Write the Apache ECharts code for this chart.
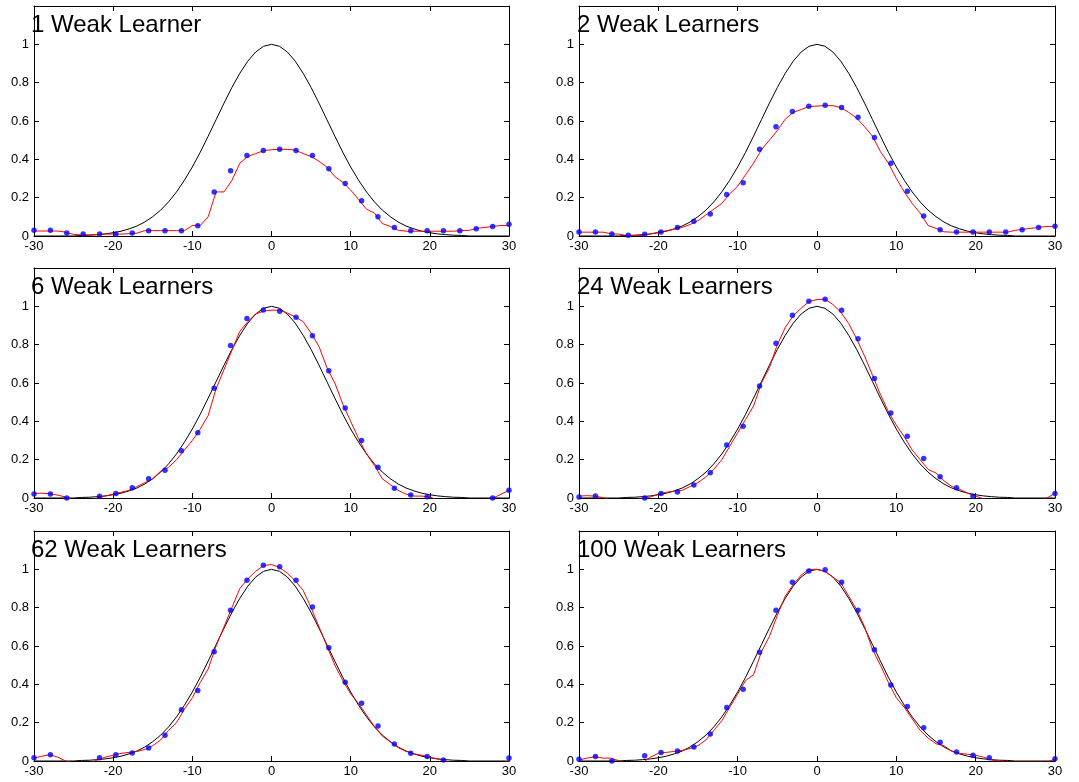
<!DOCTYPE html>
<html>
<head>
<meta charset="utf-8">
<script src="https://cdn.jsdelivr.net/npm/echarts@6/dist/echarts.min.js"></script>
<style>
  html, body { margin: 0; padding: 0; background: #fff; }
  #main { width: 1079px; height: 782px; }
</style>
</head>
<body>
<div id="main"></div>
<script>
// x positions of the fitted curve / target curve samples
var xLine = [-30, -29, -28, -27, -26, -25, -24, -23, -22, -21, -20, -19, -18, -17, -16, -15, -14, -13, -12, -11,
    -10, -9, -8, -7, -6, -5, -4, -3, -2, -1, 0, 1, 2, 3, 4, 5, 6, 7, 8, 9,
    10, 11, 12, 13, 14, 15, 16, 17, 18, 19, 20, 21, 22, 23, 24, 25, 26, 27, 28, 29, 30];

// x positions of the blue sample points
var xDots = [-30, -27.93, -25.86, -23.79, -21.72, -19.66, -17.59, -15.52, -13.45, -11.38,
    -9.31, -7.24, -5.17, -3.10, -1.03, 1.03, 3.10, 5.17, 7.24, 9.31,
    11.38, 13.45, 15.52, 17.59, 19.66, 21.72, 23.79, 25.86, 27.93, 30];

// black target curve (same in every panel)
var target = [0, 0, 0, 0, 0, 0, 0.003, 0.004, 0.007, 0.011, 0.017, 0.025, 0.037, 0.052, 0.073, 0.101, 0.135, 0.178, 0.230, 0.291,
    0.360, 0.437, 0.521, 0.607, 0.693, 0.775, 0.849, 0.912, 0.960, 0.990, 1.000, 0.990, 0.960, 0.912, 0.849, 0.775, 0.693, 0.607, 0.521, 0.437,
    0.360, 0.291, 0.230, 0.178, 0.135, 0.101, 0.073, 0.052, 0.037, 0.025, 0.017, 0.011, 0.007, 0.004, 0.003, 0, 0, 0, 0, 0, 0];

var titles = ['1 Weak Learner', '2 Weak Learners', '6 Weak Learners', '24 Weak Learners', '62 Weak Learners', '100 Weak Learners'];

// red fitted curves
var fit1 = [0.026, 0.026, 0.026, 0.026, 0.02, 0.008, 0.006, 0.006, 0.008, 0.01, 0.01, 0.01, 0.012, 0.015, 0.028, 0.028, 0.028, 0.028, 0.028, 0.028,
    0.055, 0.055, 0.1, 0.23, 0.23, 0.29, 0.38, 0.415, 0.43, 0.445, 0.45, 0.452, 0.452, 0.448, 0.43, 0.415, 0.39, 0.36, 0.31, 0.28,
    0.24, 0.19, 0.14, 0.12, 0.065, 0.05, 0.03, 0.025, 0.025, 0.025, 0.025, 0.025, 0.025, 0.025, 0.028, 0.03, 0.04, 0.045, 0.05, 0.055, 0.055];
var fit2 = [0.02, 0.02, 0.02, 0.02, 0.012, 0.01, 0.003, 0.003, 0.003, 0.01, 0.02, 0.027, 0.035, 0.045, 0.06, 0.08, 0.11, 0.14, 0.17, 0.22,
    0.26, 0.32, 0.38, 0.45, 0.5, 0.55, 0.61, 0.645, 0.66, 0.675, 0.678, 0.68, 0.68, 0.67, 0.645, 0.615, 0.57, 0.52, 0.44, 0.38,
    0.30, 0.23, 0.17, 0.12, 0.055, 0.04, 0.022, 0.02, 0.02, 0.02, 0.02, 0.02, 0.02, 0.02, 0.02, 0.03, 0.035, 0.04, 0.045, 0.05, 0.05];
var fit3 = [0.025, 0.025, 0.022, 0.015, 0.005, -0.01, -0.01, -0.01, 0.0, 0.01, 0.02, 0.03, 0.04, 0.06, 0.08, 0.10, 0.14, 0.16, 0.2, 0.25,
    0.3, 0.36, 0.43, 0.57, 0.67, 0.77, 0.87, 0.92, 0.96, 0.975, 0.98, 0.98, 0.965, 0.945, 0.92, 0.86, 0.79, 0.68, 0.6, 0.49,
    0.4, 0.31, 0.23, 0.17, 0.1, 0.07, 0.04, 0.02, 0.01, 0.01, 0.005, -0.01, -0.01, -0.01, -0.01, -0.01, -0.01, -0.01, 0.0, 0.02, 0.04];
var fit4 = [0.01, 0.012, 0.01, 0.002, -0.01, -0.01, -0.01, -0.01, 0.0, 0.005, 0.02, 0.03, 0.035, 0.04, 0.06, 0.08, 0.11, 0.15, 0.2, 0.27,
    0.34, 0.41, 0.48, 0.6, 0.68, 0.8, 0.89, 0.95, 0.99, 1.025, 1.035, 1.037, 1.01, 0.97, 0.91, 0.83, 0.74, 0.64, 0.54, 0.45,
    0.38, 0.32, 0.25, 0.2, 0.15, 0.13, 0.09, 0.06, 0.045, 0.025, 0.01, -0.005, -0.01, -0.01, -0.01, -0.01, -0.01, -0.01, -0.01, 0.0, 0.025];
var fit5 = [0.015, 0.025, 0.033, 0.02, 0.0, -0.01, -0.01, -0.01, 0.005, 0.02, 0.03, 0.04, 0.045, 0.05, 0.06, 0.08, 0.11, 0.16, 0.2, 0.27,
    0.33, 0.41, 0.48, 0.6, 0.7, 0.8, 0.9, 0.95, 0.99, 1.02, 1.025, 1.01, 0.98, 0.94, 0.89, 0.8, 0.7, 0.6, 0.5, 0.42,
    0.35, 0.3, 0.24, 0.18, 0.13, 0.1, 0.07, 0.05, 0.037, 0.03, 0.02, 0.01, 0.0, -0.01, -0.01, -0.01, -0.01, -0.01, -0.01, -0.01, 0.0];
var fit6 = [0.005, 0.015, 0.022, 0.015, 0.015, 0.002, -0.01, -0.01, -0.01, 0.02, 0.04, 0.045, 0.05, 0.055, 0.065, 0.08, 0.11, 0.16, 0.21, 0.28,
    0.35, 0.42, 0.45, 0.57, 0.65, 0.76, 0.86, 0.92, 0.97, 1.0, 1.0, 0.99, 0.96, 0.93, 0.86, 0.79, 0.7, 0.58, 0.5, 0.41,
    0.33, 0.28, 0.22, 0.16, 0.12, 0.09, 0.08, 0.05, 0.04, 0.035, 0.03, 0.02, 0.005, 0.0, -0.005, -0.005, -0.005, -0.005, -0.005, -0.005, 0.01];

// blue sample points
var dots1 = [0.03, 0.03, 0.016, 0.01, 0.01, 0.01, 0.016, 0.028, 0.028, 0.028, 0.054, 0.229, 0.34, 0.42, 0.446,
    0.453, 0.446, 0.42, 0.351, 0.274, 0.184, 0.10, 0.044, 0.028, 0.028, 0.028, 0.028, 0.038, 0.05, 0.061];
var dots2 = [0.021, 0.021, 0.01, 0.004, 0.009, 0.021, 0.044, 0.077, 0.115, 0.217, 0.278, 0.453, 0.57, 0.649, 0.677,
    0.682, 0.671, 0.619, 0.514, 0.379, 0.234, 0.105, 0.033, 0.021, 0.021, 0.021, 0.021, 0.033, 0.044, 0.051];
var dots3 = [0.021, 0.021, 0.0, -0.01, 0.009, 0.024, 0.054, 0.10, 0.145, 0.247, 0.341, 0.573, 0.796, 0.936, 0.981,
    0.974, 0.943, 0.847, 0.664, 0.469, 0.30, 0.16, 0.051, 0.016, 0.007, -0.01, -0.01, -0.01, 0.0, 0.04];
var dots4 = [0.005, 0.01, -0.01, -0.01, 0.0, 0.024, 0.031, 0.068, 0.132, 0.277, 0.375, 0.584, 0.807, 0.953, 1.026,
    1.037, 0.979, 0.831, 0.624, 0.444, 0.322, 0.206, 0.111, 0.054, 0.009, -0.01, -0.01, -0.01, -0.01, 0.023];
var dots5 = [0.017, 0.033, -0.01, -0.01, 0.017, 0.033, 0.042, 0.068, 0.134, 0.268, 0.368, 0.57, 0.787, 0.943, 1.021,
    1.014, 0.943, 0.803, 0.591, 0.411, 0.301, 0.183, 0.089, 0.04, 0.023, 0.005, -0.01, -0.01, -0.01, 0.016];
var dots6 = [0.009, 0.023, 0.0, -0.01, 0.028, 0.045, 0.052, 0.073, 0.141, 0.279, 0.375, 0.568, 0.787, 0.932, 0.991,
    0.998, 0.932, 0.786, 0.58, 0.397, 0.284, 0.174, 0.098, 0.047, 0.03, 0.017, -0.01, -0.01, -0.01, 0.012];

var fits = [fit1, fit2, fit3, fit4, fit5, fit6];
var dots = [dots1, dots2, dots3, dots4, dots5, dots6];

var FONT = '"Liberation Sans", Arial, sans-serif';
var gridLefts = [34, 579];
var gridWidths = [475, 476];
var gridTops = [6, 268, 531];

var dom = document.getElementById('main');
var myChart = echarts.init(dom);

var grids = [], xAxes = [], yAxes = [], series = [], titleList = [];

function pairs(xs, ys) {
    return xs.map(function (x, k) { return [x, ys[k]]; });
}

for (var i = 0; i < 6; i++) {
    var col = i % 2, row = Math.floor(i / 2);
    grids.push({left: gridLefts[col], top: gridTops[row], width: gridWidths[col], height: 230, containLabel: false});

    var axLine = {show: true, onZero: false, lineStyle: {color: '#000', width: 1}};
    var tick = {show: true, inside: true, length: 5, lineStyle: {color: '#000'}};

    xAxes.push({
        gridIndex: i, type: 'value', position: 'bottom', min: -30, max: 30, interval: 10,
        axisLine: axLine, axisTick: tick, splitLine: {show: false},
        axisLabel: {color: '#000', fontSize: 13, fontFamily: FONT, margin: 4}
    });
    xAxes.push({
        gridIndex: i, type: 'value', position: 'top', min: -30, max: 30, interval: 10,
        axisLine: axLine, axisTick: tick, splitLine: {show: false}, axisLabel: {show: false}
    });
    yAxes.push({
        gridIndex: i, type: 'value', position: 'left', min: 0, max: 1.2, interval: 0.2,
        axisLine: axLine, axisTick: tick, splitLine: {show: false},
        axisLabel: {color: '#000', fontSize: 13, fontFamily: FONT, margin: 5, showMaxLabel: false}
    });
    yAxes.push({
        gridIndex: i, type: 'value', position: 'right', min: 0, max: 1.2, interval: 0.2,
        axisLine: axLine, axisTick: tick, splitLine: {show: false}, axisLabel: {show: false}
    });

    series.push({
        type: 'line', xAxisIndex: 2 * i, yAxisIndex: 2 * i, data: pairs(xLine, target),
        showSymbol: false, silent: true, lineStyle: {color: '#000', width: 1}, z: 2
    });
    series.push({
        type: 'line', xAxisIndex: 2 * i, yAxisIndex: 2 * i, data: pairs(xLine, fits[i]),
        showSymbol: false, silent: true, lineStyle: {color: '#ff0000', width: 1}, z: 3
    });
    series.push({
        type: 'scatter', xAxisIndex: 2 * i, yAxisIndex: 2 * i, data: pairs(xDots, dots[i]),
        symbol: 'circle', symbolSize: 5.5, itemStyle: {color: '#0000ff'}, z: 4
    });

    titleList.push({
        text: titles[i], left: col ? 577 : 31, top: gridTops[row] + 7, padding: 0,
        textStyle: {fontSize: 24, fontWeight: 'normal', color: '#000', fontFamily: FONT}
    });
}

var option = {
    backgroundColor: '#fff',
    animation: false,
    title: titleList,
    grid: grids,
    xAxis: xAxes,
    yAxis: yAxes,
    series: series
};

myChart.setOption(option);
</script>
</body>
</html>
